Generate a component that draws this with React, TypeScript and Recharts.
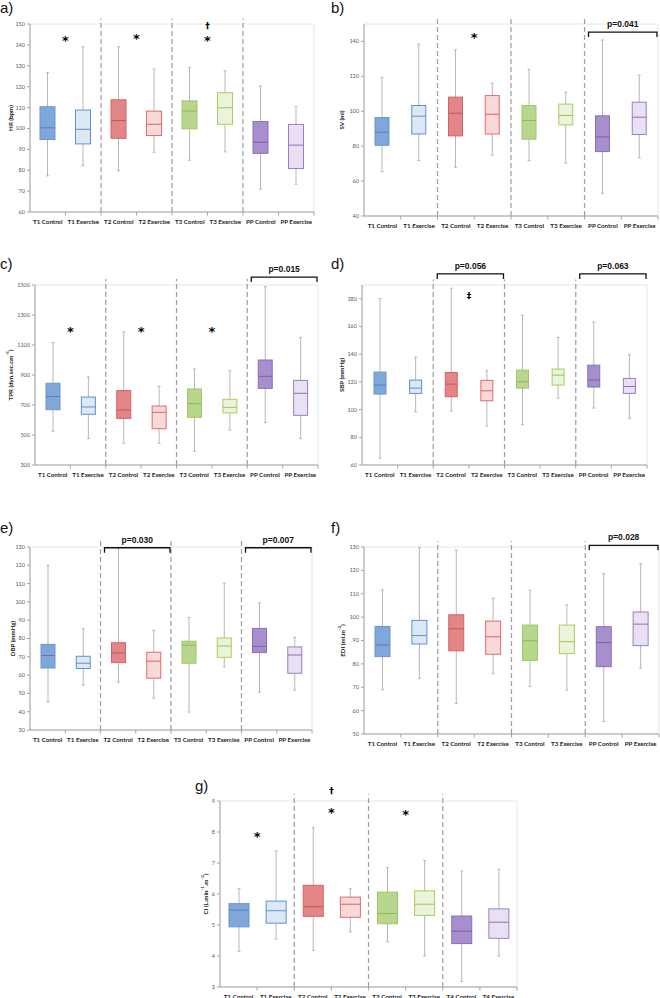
import React from "react";
import { ComposedChart, Bar, XAxis, YAxis, ReferenceLine, ReferenceArea } from "recharts";

const categories = ["T1 Control", "T1 Exercise", "T2 Control", "T2 Exercise", "T3 Control", "T3 Exercise", "PP Control", "PP Exercise"];
const categoriesCI = ["T1 Control", "T1 Exercise", "T2 Control", "T2 Exercise", "T3 Control", "T3 Exercise", "T4 Control", "T4 Exercise"];

// each box: [min, q1, median, q3, max]
const hrBoxes = [
  [77.3, 94.7, 100.3, 110.4, 126.7],
  [82.1, 92.6, 99.6, 108.8, 139.1],
  [79.8, 95.3, 103.8, 113.7, 139.1],
  [88.6, 96.6, 102.0, 108.3, 128.4],
  [84.8, 99.8, 108.3, 113.2, 129.2],
  [88.8, 102.0, 109.9, 117.1, 127.6],
  [70.9, 88.1, 93.4, 103.3, 120.3],
  [73.3, 80.8, 92.0, 101.9, 110.5],
];
const svBoxes = [
  [65.4, 80.5, 88.0, 96.4, 119.5],
  [71.7, 87.0, 97.2, 103.3, 138.5],
  [67.9, 85.9, 98.9, 108.1, 135.2],
  [74.8, 87.0, 98.3, 109.0, 116.1],
  [71.7, 84.0, 94.7, 103.3, 124.1],
  [70.4, 92.2, 97.6, 104.1, 110.9],
  [53.0, 76.9, 85.3, 97.4, 140.8],
  [73.3, 86.7, 96.6, 105.2, 120.7],
];
const tprBoxes = [
  [525, 669, 756, 845, 1116],
  [476, 638, 687, 753, 887],
  [444, 611, 667, 796, 1187],
  [444, 542, 651, 693, 824],
  [391, 618, 709, 807, 940],
  [533, 647, 684, 738, 929],
  [582, 811, 891, 1000, 1489],
  [476, 631, 778, 864, 1151],
];
const sbpBoxes = [
  [65.0, 111.2, 117.7, 127.1, 180.2],
  [98.5, 111.7, 115.5, 121.3, 137.9],
  [99.0, 109.3, 118.4, 126.8, 187.7],
  [88.1, 106.4, 113.6, 121.1, 128.1],
  [89.1, 115.5, 120.1, 128.5, 168.2],
  [108.3, 117.7, 124.9, 129.3, 152.1],
  [101.1, 116.3, 121.3, 132.1, 163.2],
  [93.7, 111.7, 116.7, 122.5, 139.6],
];
const dbpBoxes = [
  [45.4, 63.9, 70.7, 76.8, 120.0],
  [54.5, 63.6, 66.5, 70.3, 85.4],
  [56.1, 66.8, 72.1, 77.7, 129.1],
  [47.4, 58.3, 67.6, 72.5, 84.3],
  [39.8, 66.5, 76.3, 78.5, 91.5],
  [64.5, 69.7, 75.9, 80.3, 110.2],
  [50.7, 72.3, 75.7, 85.5, 99.5],
  [51.8, 61.0, 71.0, 75.4, 80.6],
];
const ediBoxes = [
  [69.1, 83.1, 88.1, 96.0, 111.7],
  [73.8, 88.5, 92.1, 98.6, 129.7],
  [63.0, 85.6, 95.0, 101.0, 128.7],
  [75.8, 84.1, 91.6, 98.3, 108.2],
  [70.4, 81.5, 89.9, 96.6, 111.5],
  [68.7, 84.4, 89.5, 96.6, 105.2],
  [55.4, 78.8, 89.1, 95.9, 118.6],
  [78.2, 87.8, 97.0, 102.2, 122.9],
];
const ciBoxes = [
  [4.15, 4.94, 5.48, 5.69, 6.17],
  [4.55, 5.06, 5.46, 5.77, 7.39],
  [4.18, 5.28, 5.59, 6.28, 8.14],
  [4.78, 5.25, 5.67, 5.9, 6.17],
  [4.46, 5.04, 5.37, 6.06, 6.85],
  [4.0, 5.31, 5.67, 6.1, 7.08],
  [3.18, 4.4, 4.8, 5.29, 6.74],
  [4.0, 4.57, 5.09, 5.52, 6.8],
];

const hrTicks = [60, 70, 80, 90, 100, 110, 120, 130, 140, 150];
const svTicks = [40, 60, 80, 100, 120, 140];
const tprTicks = [300, 500, 700, 900, 1100, 1300, 1500];
const sbpTicks = [60, 80, 100, 120, 140, 160, 180];
const dbpTicks = [30, 40, 50, 60, 70, 80, 90, 100, 110, 120, 130];
const ediTicks = [50, 60, 70, 80, 90, 100, 110, 120, 130];
const ciTicks = [3, 4, 5, 6, 7, 8, 9];

type Mark = { at: string; y: number; sym: string };
type Bracket = { from: string; to: string; y: number; text: string };

const hrMarks: Mark[] = [
  { at: "T1 Control", y: 143.3, sym: "*" },
  { at: "T2 Control", y: 144.1, sym: "*" },
  { at: "T3 Control", y: 143.3, sym: "*" },
  { at: "T3 Control", y: 149.2, sym: "†" },
];
const svMarks: Mark[] = [{ at: "T2 Control", y: 143.8, sym: "*" }];
const tprMarks: Mark[] = [
  { at: "T1 Control", y: 1209, sym: "*" },
  { at: "T2 Control", y: 1209, sym: "*" },
  { at: "T3 Control", y: 1209, sym: "*" },
];
const sbpMarks: Mark[] = [{ at: "T2 Control", y: 182.4, sym: "‡" }];
const ciMarks: Mark[] = [
  { at: "T1 Control", y: 7.92, sym: "*" },
  { at: "T2 Control", y: 8.7, sym: "*" },
  { at: "T2 Control", y: 9.34, sym: "†" },
  { at: "T3 Control", y: 8.63, sym: "*" },
];

const svBrackets: Bracket[] = [{ from: "PP Control", to: "PP Exercise", y: 145.4, text: "p=0.041" }];
const tprBrackets: Bracket[] = [{ from: "PP Control", to: "PP Exercise", y: 1553, text: "p=0.015" }];
const sbpBrackets: Bracket[] = [
  { from: "T2 Control", to: "T2 Exercise", y: 198, text: "p=0.056" },
  { from: "PP Control", to: "PP Exercise", y: 198, text: "p=0.063" },
];
const dbpBrackets: Bracket[] = [
  { from: "T2 Control", to: "T2 Exercise", y: 129.6, text: "p=0.030" },
  { from: "PP Control", to: "PP Exercise", y: 129.6, text: "p=0.007" },
];
const ediBrackets: Bracket[] = [{ from: "PP Control", to: "PP Exercise", y: 130.7, text: "p=0.028" }];

const fills = ["#7fa7da", "#dde8f5", "#e38688", "#f8d9d9", "#b8d68e", "#ebf4da", "#a78ecc", "#e9e1f1"];
const strokes = ["#6b96cf", "#5e90d5", "#d76064", "#e36a6c", "#a0c766", "#a6ce63", "#8c6ebb", "#9a7ec7"];
const medians = ["#587fb8", "#5e90d5", "#c4555a", "#df6064", "#8fb958", "#9cc65a", "#7a5fa8", "#8b6fbc"];
const whisker = "#b7b7b7";
const axisGray = "#a3a3a3";

const BoxShape = (props: any) => {
  const { x, y, width, height, payload } = props;
  if (!payload) return null;
  const [mn, q1, md, q3, mx] = payload.stats as number[];
  const top = Math.min(y, y + height);
  const bottom = Math.max(y, y + height);
  const toY = (v: number) => bottom - ((v - mn) / (mx - mn)) * (bottom - top);
  const cx = x + width / 2;
  const i = payload.idx;
  return (
    <g>
      <line x1={cx} x2={cx} y1={top} y2={bottom} stroke={whisker} strokeWidth={1} />
      <line x1={cx - 1.5} x2={cx + 1.5} y1={top} y2={top} stroke={whisker} />
      <line x1={cx - 1.5} x2={cx + 1.5} y1={bottom} y2={bottom} stroke={whisker} />
      <rect x={x} y={toY(q3)} width={width} height={toY(q1) - toY(q3)} fill={fills[i]} stroke={strokes[i]} strokeWidth={1} />
      <line x1={x} x2={x + width} y1={toY(md)} y2={toY(md)} stroke={medians[i]} strokeWidth={1} />
    </g>
  );
};

const CatTick = (p: any) => {
  const { x, y, payload } = p;
  const half = payload.offset || 0;
  return (
    <g>
      <line x1={x + half} x2={x + half} y1={y} y2={y + 3.5} stroke={axisGray} />
      <text x={x} y={y + 11.5} textAnchor="middle" fontSize={6.2} fontWeight={700} fill="#222" fontFamily="Lato, sans-serif">
        {payload.value}
      </text>
    </g>
  );
};

type PanelCfg = {
  letter: string;
  letterPos: [number, number];
  cats: string[];
  boxes: number[][];
  domain: [number, number];
  ticks: number[];
  dashTop: number;
  title: React.ReactNode;
  titleDx: number;
  chart: { x: number; y: number; w: number; h: number };
  plot: { l: number; t: number; r: number; b: number };
  barSize: number;
  marks: Mark[];
  brackets: Bracket[];
};

const sup = (s: string) => (
  <tspan baselineShift="super" fontSize={4.5}>
    {s}
  </tspan>
);

const panels: PanelCfg[] = [
  {
    letter: "a)", letterPos: [0, 0], cats: categories, boxes: hrBoxes, domain: [60, 150], ticks: hrTicks, dashTop: 152.6,
    title: "HR (bpm)", titleDx: -20, chart: { x: 0, y: 0, w: 330, h: 240 }, plot: { l: 30, t: 24, r: 314, b: 212 },
    barSize: 15, marks: hrMarks, brackets: [],
  },
  {
    letter: "b)", letterPos: [331, 0], cats: categories, boxes: svBoxes, domain: [40, 150], ticks: svTicks, dashTop: 153,
    title: "SV (ml)", titleDx: -23, chart: { x: 330, y: 0, w: 330, h: 240 }, plot: { l: 364, t: 24, r: 658, b: 216 },
    barSize: 14, marks: svMarks, brackets: svBrackets,
  },
  {
    letter: "c)", letterPos: [0, 256], cats: categories, boxes: tprBoxes, domain: [300, 1500], ticks: tprTicks, dashTop: 1540,
    title: <>TPR (dyn.sec.cm{sup("-5")})</>, titleDx: -25, chart: { x: 0, y: 250, w: 330, h: 240 }, plot: { l: 35, t: 285, r: 318, b: 465 },
    barSize: 14, marks: tprMarks, brackets: tprBrackets,
  },
  {
    letter: "d)", letterPos: [331, 256], cats: categories, boxes: sbpBoxes, domain: [60, 190], ticks: sbpTicks, dashTop: 194,
    title: "SBP (mmHg)", titleDx: -21, chart: { x: 330, y: 250, w: 330, h: 240 }, plot: { l: 362, t: 285, r: 647, b: 465 },
    barSize: 12, marks: sbpMarks, brackets: sbpBrackets,
  },
  {
    letter: "e)", letterPos: [0, 520], cats: categories, boxes: dbpBoxes, domain: [30, 130], ticks: dbpTicks, dashTop: 133.3,
    title: "DBP (mmHg)", titleDx: -18, chart: { x: 0, y: 515, w: 330, h: 240 }, plot: { l: 30, t: 547, r: 312, b: 730 },
    barSize: 14, marks: [], brackets: dbpBrackets,
  },
  {
    letter: "f)", letterPos: [331, 520], cats: categories, boxes: ediBoxes, domain: [50, 130], ticks: ediTicks, dashTop: 132.6,
    title: <>EDI (ml.m{sup("-2")})</>, titleDx: -22, chart: { x: 330, y: 515, w: 330, h: 240 }, plot: { l: 364, t: 547, r: 659, b: 734 },
    barSize: 15, marks: [], brackets: ediBrackets,
  },
  {
    letter: "g)", letterPos: [195, 778], cats: categoriesCI, boxes: ciBoxes, domain: [3, 9], ticks: ciTicks, dashTop: 9.22,
    title: <>CI (L.min{sup("-1")}.m{sup("-2")})</>, titleDx: -15, chart: { x: 160, y: 775, w: 360, h: 223 }, plot: { l: 220, t: 801, r: 517, b: 987 },
    barSize: 20, marks: ciMarks, brackets: [],
  },
];

function Panel({ cfg }: { cfg: PanelCfg }) {
  const { chart, plot } = cfg;
  const yW = 14;
  const xH = 10;
  const margin = {
    top: plot.t - chart.y,
    left: plot.l - chart.x - yW,
    right: chart.x + chart.w - plot.r,
    bottom: chart.y + chart.h - plot.b - xH,
  };
  const data = cfg.cats.map((name, idx) => ({
    name,
    idx,
    stats: cfg.boxes[idx],
    range: [cfg.boxes[idx][0], cfg.boxes[idx][4]],
  }));
  const [lo, hi] = cfg.domain;
  const groupStarts = [cfg.cats[2], cfg.cats[4], cfg.cats[6]];
  return (
    <div style={{ position: "absolute", left: chart.x, top: chart.y, width: chart.w, height: chart.h }}>
      <ComposedChart width={chart.w} height={chart.h} data={data} margin={margin}>
        <ReferenceArea y1={lo} y2={hi} ifOverflow="visible" fill="none" stroke="#e6e6e6" />
        <XAxis
          dataKey="name"
          interval={0}
          tickSize={0}
          tickMargin={0}
          tickLine={false}
          axisLine={{ stroke: axisGray }}
          tick={(p: any) => <CatTick {...p} />}
          height={xH}
        />
        <YAxis
          type="number"
          domain={[lo, hi]}
          ticks={cfg.ticks}
          allowDataOverflow
          width={yW}
          tickSize={3}
          tickMargin={2}
          axisLine={{ stroke: axisGray }}
          tickLine={{ stroke: axisGray }}
          tick={{ fontSize: 5.5, fill: "#5a5a5a", fontFamily: "Lato, sans-serif" }}
          label={(lp: any) => {
            const vb = lp.viewBox || {};
            const cx = vb.x + vb.width + cfg.titleDx;
            const cy = vb.y + vb.height / 2;
            return (
              <text
                x={cx}
                y={cy}
                transform={`rotate(-90 ${cx} ${cy})`}
                textAnchor="middle"
                dominantBaseline="central"
                fontSize={6.2}
                fontWeight={700}
                fill="#222"
                fontFamily="Lato, sans-serif"
              >
                {cfg.title}
              </text>
            );
          }}
        />
        {groupStarts.map((g) => (
          <ReferenceLine
            key={"d" + g}
            segment={[{ x: g, y: lo }, { x: g, y: cfg.dashTop }]}
            position="start"
            ifOverflow="visible"
            stroke="#9c9c9c"
            strokeWidth={1.2}
            strokeDasharray="5 3"
          />
        ))}
        <Bar dataKey="range" barSize={cfg.barSize} isAnimationActive={false} shape={(p: any) => <BoxShape {...p} />} />
        {cfg.marks.map((m, k) => (
          <ReferenceLine
            key={"m" + k}
            segment={[{ x: m.at, y: m.y }, { x: m.at, y: m.y }]}
            position="end"
            ifOverflow="visible"
            stroke="none"
            shape={(sp: any) => (
              <text
                x={sp.x1}
                y={sp.y1}
                dy={m.sym === "*" ? 7 : 3.2}
                textAnchor="middle"
                fontSize={m.sym === "*" ? 13 : 9}
                fontWeight={700}
                fill="#000"
                fontFamily="DejaVu Sans, sans-serif"
              >
                {m.sym}
              </text>
            )}
          />
        ))}
        {cfg.brackets.map((b, k) => (
          <ReferenceLine
            key={"b" + k}
            segment={[{ x: b.from, y: b.y }, { x: b.to, y: b.y }]}
            position="start"
            ifOverflow="visible"
            stroke="#111"
            shape={(sp: any) => {
              const band = sp.x2 - sp.x1;
              const x1 = sp.x1 + 4;
              const x2 = sp.x2 + band - 1;
              const y = sp.y1;
              return (
                <g>
                  <path d={`M${x1},${y + 5}V${y}H${x2}V${y + 5}`} fill="none" stroke="#111" strokeWidth={1.3} />
                  <text
                    x={(x1 + x2) / 2}
                    y={y - 5}
                    textAnchor="middle"
                    fontSize={8.5}
                    fontWeight={700}
                    fill="#111"
                    fontFamily="Liberation Sans, Arial, sans-serif"
                  >
                    {b.text}
                  </text>
                </g>
              );
            }}
          />
        ))}
      </ComposedChart>
      <div
        style={{
          position: "absolute",
          left: cfg.letterPos[0] - chart.x,
          top: cfg.letterPos[1] - chart.y,
          fontSize: 15,
          lineHeight: 1,
          fontFamily: "Liberation Sans, Arial, sans-serif",
          color: "#111",
        }}
      >
        {cfg.letter}
      </div>
    </div>
  );
}

export default function App() {
  return (
    <div style={{ position: "absolute", left: 0, top: 0, width: 660, height: 998, background: "#fff", overflow: "hidden" }}>
      {panels.map((p) => (
        <Panel key={p.letter} cfg={p} />
      ))}
    </div>
  );
}
